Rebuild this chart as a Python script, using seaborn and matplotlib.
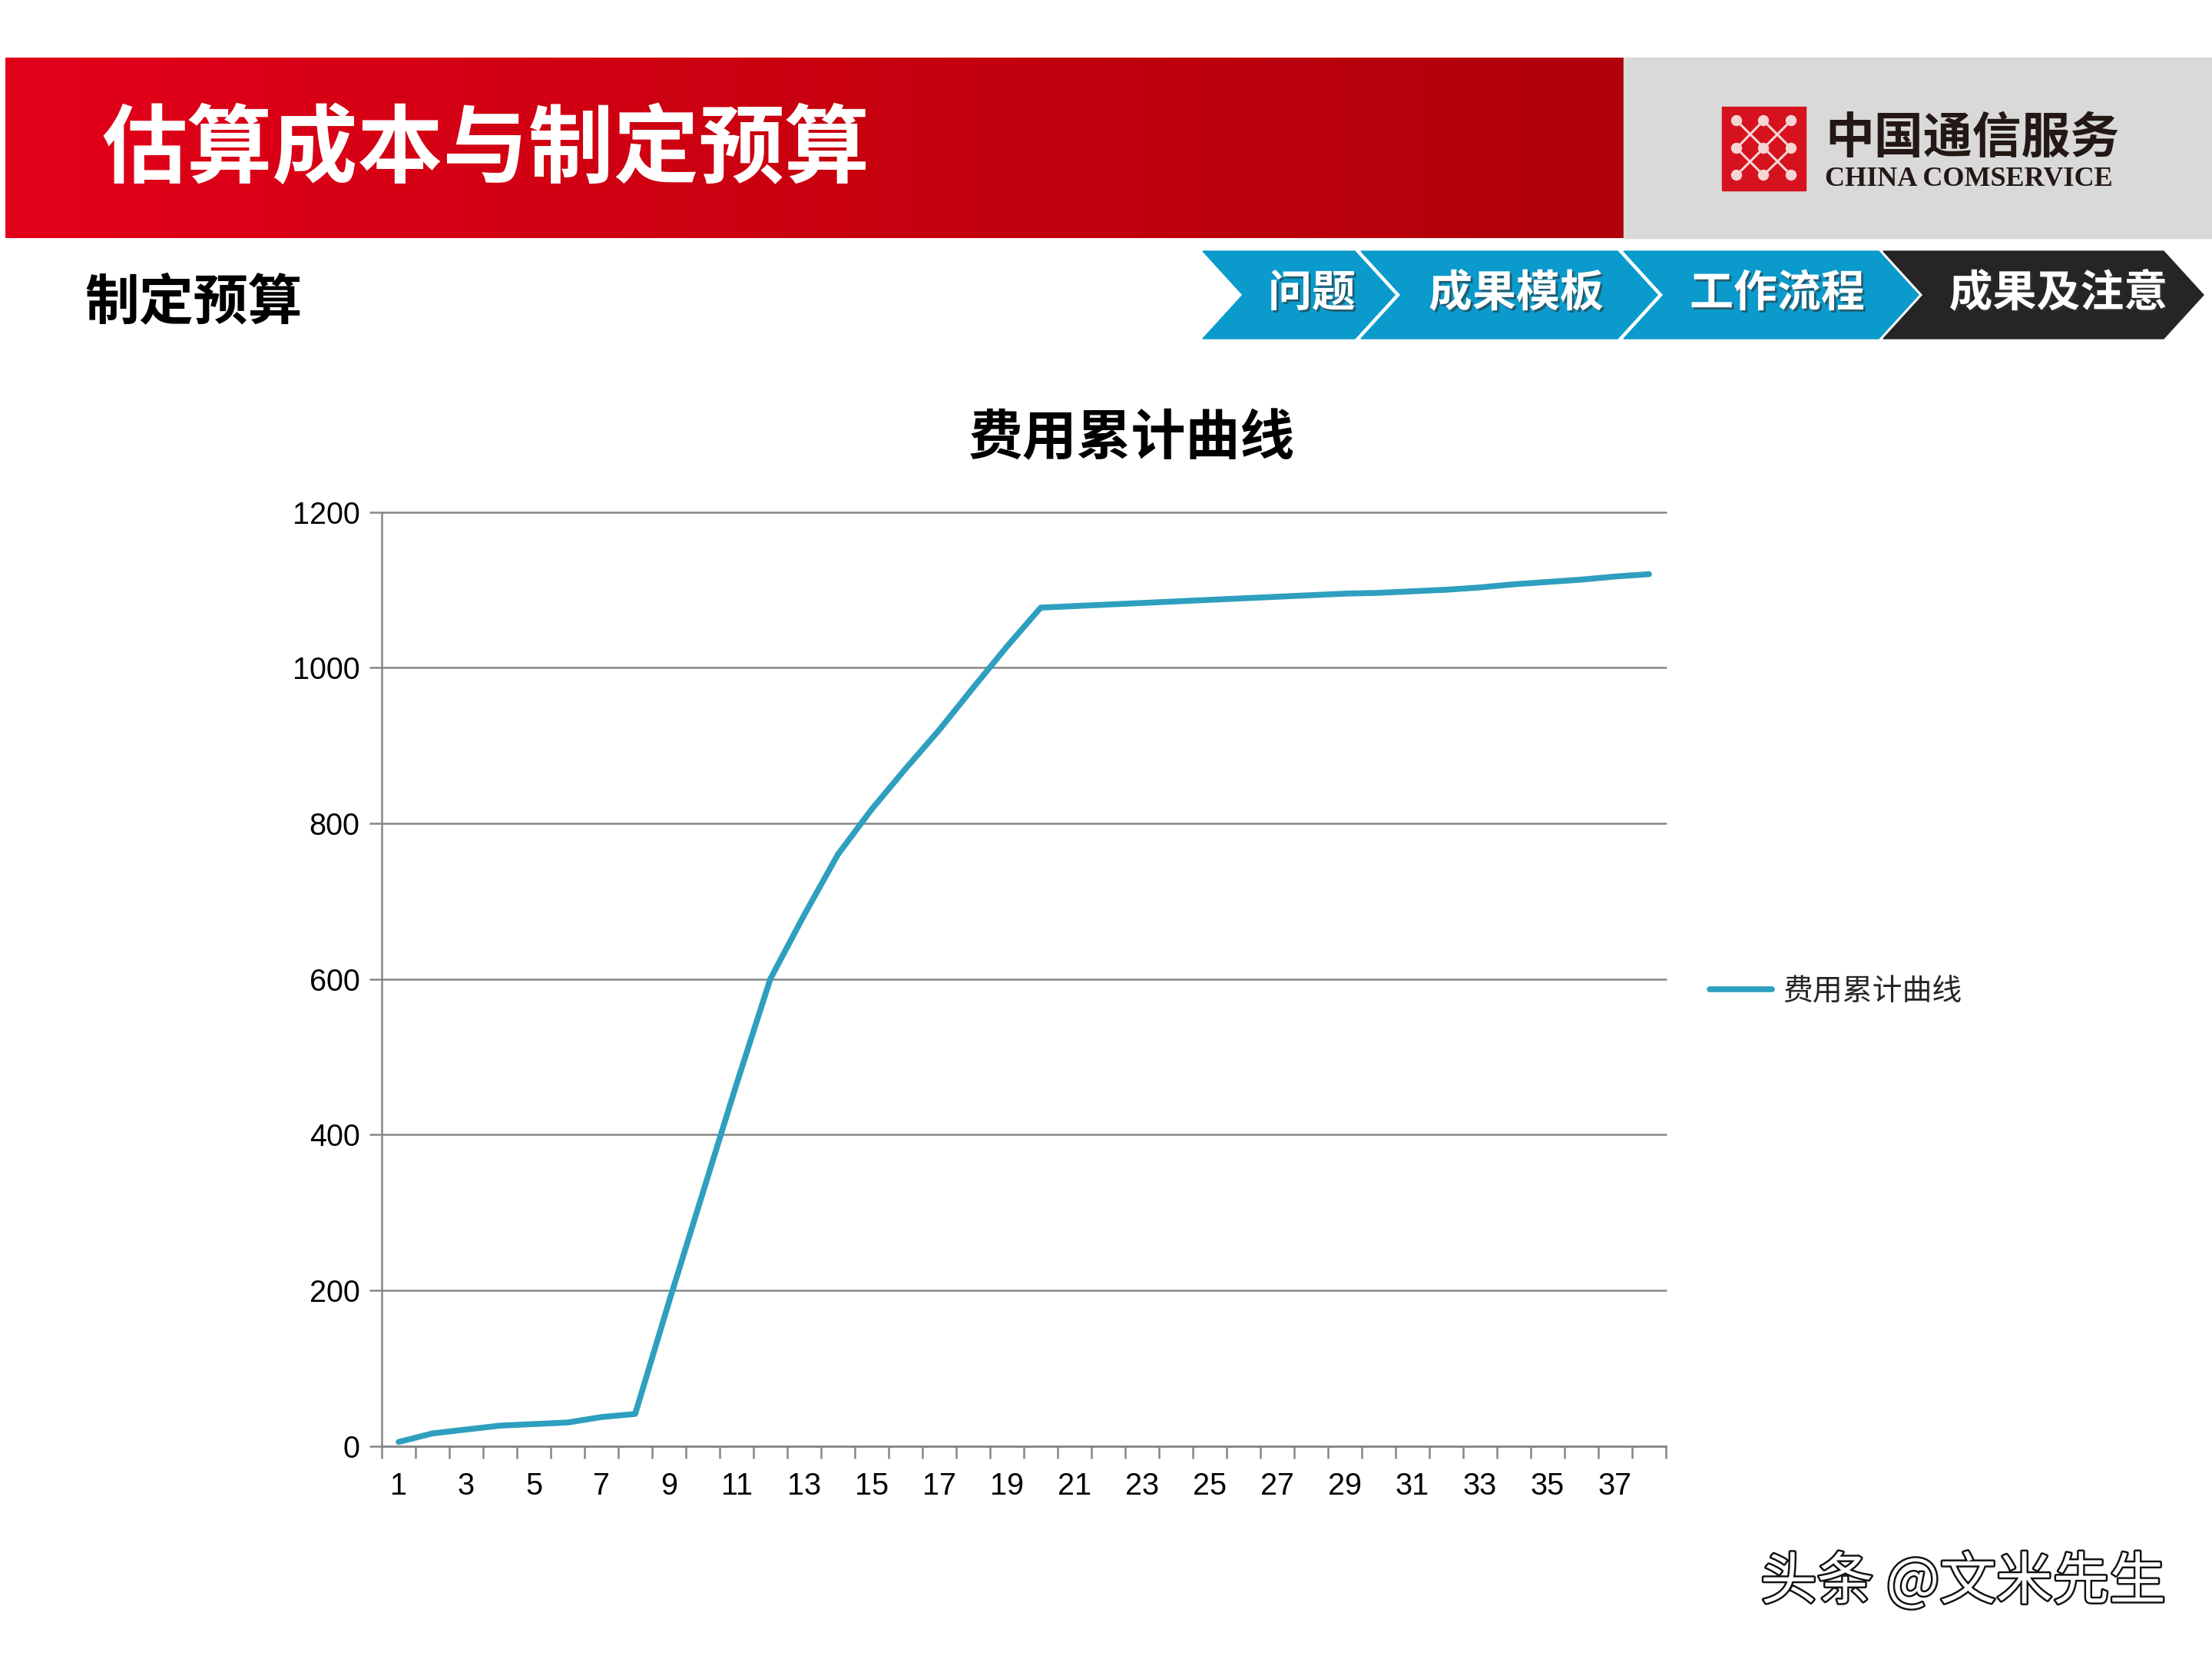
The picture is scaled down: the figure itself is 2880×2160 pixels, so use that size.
import numpy as np
import pandas as pd
import matplotlib
matplotlib.use("Agg")
import matplotlib.pyplot as plt
import seaborn as sns
from matplotlib.patches import Polygon, Rectangle, Circle
from matplotlib.colors import LinearSegmentedColormap
import matplotlib.patheffects as pe

# ---------------- data ----------------
periods = list(range(1, 39))
cumulative_cost = [5, 16, 21, 26, 28, 30, 37, 41,
                   185, 325, 465, 600,
                   682, 760, 818, 870, 920, 974, 1027, 1077,
                   1079, 1081, 1083, 1085, 1087, 1089, 1091, 1093, 1095, 1096, 1098, 1100,
                   1103, 1107, 1110, 1113, 1117, 1120]
y_ticks = [0, 200, 400, 600, 800, 1000, 1200]
x_tick_labels = [str(i) for i in range(1, 38, 2)]

header_title = "估算成本与制定预算"
section_title = "制定预算"
nav_steps = ["问题", "成果模板", "工作流程", "成果及注意"]
chart_title = "费用累计曲线"
series_name = "费用累计曲线"
company_cn = "中国通信服务"
company_en = "CHINA COMSERVICE"
watermark = "头条 @文米先生"

# ---------------- style ----------------
sns.set_theme(style="white")
plt.rcParams["font.family"] = ["Noto Sans CJK SC", "DejaVu Sans"]

W, H = 2880, 2160
fig = plt.figure(figsize=(W / 100, H / 100), dpi=100)
fig.patch.set_facecolor("white")

# background / decoration layer in pixel coordinates
bg = fig.add_axes([0, 0, 1, 1], zorder=0)
bg.set_xlim(0, W)
bg.set_ylim(H, 0)
bg.axis("off")

red_cmap = LinearSegmentedColormap.from_list("hdr", ["#E2001A", "#C9000F", "#B0000A"])
bg.imshow(np.linspace(0, 1, 256).reshape(1, -1), cmap=red_cmap,
          extent=[7, 2114, 310, 75], aspect="auto", zorder=1)
bg.add_patch(Rectangle((2114, 75), W - 2114, 235, color="#D9D9D9", zorder=1))
bg.set_xlim(0, W)
bg.set_ylim(H, 0)

bg.text(132, 197, header_title, color="white", fontsize=80, fontweight="bold",
        ha="left", va="center", zorder=3)

# logo
bg.add_patch(Rectangle((2242, 139), 109, 109, color="#D5121E", zorder=2))
lx = [2261, 2296, 2332]
ly = [157, 193, 228]
segs = [((0, 0), (2, 2)), ((2, 0), (0, 2)), ((1, 0), (0, 1)), ((1, 0), (2, 1)),
        ((0, 1), (1, 2)), ((2, 1), (1, 2))]
for (a, b), (c, d) in segs:
    bg.plot([lx[a], lx[c]], [ly[b], ly[d]], color="#F6D5D5", lw=2.2, zorder=3)
for i in range(3):
    for j in range(3):
        bg.add_patch(Circle((lx[i], ly[j]), 6.5, color="#F6D5D5", zorder=4))
bg.text(2376, 180, company_cn, color="#231815", fontsize=46, fontweight="bold",
        ha="left", va="center", zorder=3)
bg.text(2376, 233, company_en, color="#231815", fontsize=26, fontweight="bold",
        family="Liberation Serif", ha="left", va="center", zorder=3)

# section title
bg.text(110, 394, section_title, color="black", fontsize=51, fontweight="bold",
        ha="left", va="center", zorder=3)

# chevrons
chev = [(1566, 1764), (1772, 2106), (2114, 2446), (2452, 2817)]
chev_colors = ["#0A9ACB", "#0A9ACB", "#0A9ACB", "#252525"]
text_x = [1708, 1974, 2314, 2680]
top, bot, d = 327, 441, 52
mid = (top + bot) / 2
for (L, R), col, tx, lab in zip(chev, chev_colors, text_x, nav_steps):
    bg.add_patch(Polygon([(L, top), (R, top), (R + d, mid), (R, bot), (L, bot), (L + d, mid)],
                         closed=True, color=col, zorder=2))
    bg.text(tx, 382, lab, color="white", fontsize=41, fontweight="bold",
            ha="center", va="center", zorder=3,
            path_effects=[pe.withSimplePatchShadow(offset=(2, -2), shadow_rgbFace="#333333", alpha=0.6)])

# watermark
bg.text(2292, 2061, watermark, color="white", fontsize=53, ha="left", va="center", zorder=3,
        path_effects=[pe.Stroke(linewidth=3.5, foreground="#111111"), pe.Normal()])

# ---------------- chart ----------------
df = pd.DataFrame({"期数": periods, "累计费用": cumulative_cost})
grid_col = "#868686"
line_col = "#2E9FBF"

ax = fig.add_axes([497 / W, 1 - 1882.5 / H, 1672 / W, 1216 / H], zorder=2)
ax.set_facecolor("none")
sns.lineplot(data=df, x="期数", y="累计费用", ax=ax, color=line_col, linewidth=5.5,
             label=series_name, solid_capstyle="round", solid_joinstyle="round")
ax.set_xlim(0.5, 38.5)
ax.set_ylim(0, 1200)
ax.set_xlabel("")
ax.set_ylabel("")

ax.set_yticks(y_ticks)
ax.set_yticklabels([str(v) for v in y_ticks])
ax.set_xticks(list(range(1, 38, 2)))
ax.set_xticklabels(x_tick_labels)
ax.set_xticks(np.arange(0.5, 39, 1), minor=True)

ax.yaxis.grid(True, color=grid_col, linewidth=1.8)
ax.xaxis.grid(False)
for gl in ax.get_ygridlines():
    gl.set_clip_on(False)
ax.set_axisbelow(True)

for s in ["top", "right"]:
    ax.spines[s].set_visible(False)
for s in ["left", "bottom"]:
    ax.spines[s].set_color(grid_col)
    ax.spines[s].set_linewidth(1.8)

ax.tick_params(axis="y", which="major", direction="out", length=11.5, width=1.8,
               color=grid_col, pad=9, labelsize=28.5, labelcolor="black", left=True)
ax.tick_params(axis="x", which="major", length=0, pad=24, labelsize=28.5,
               labelcolor="black", bottom=True)
ax.tick_params(axis="x", which="minor", direction="out", length=11.5, width=1.8,
               color=grid_col, bottom=True)
for lbl in ax.get_xticklabels() + ax.get_yticklabels():
    lbl.set_fontfamily("Liberation Sans")

fig.text(1473 / W, 1 - 571 / H, chart_title, ha="center", va="center",
         fontsize=51, fontweight="bold", color="black")

handles, labels = ax.get_legend_handles_labels()
if ax.get_legend() is not None:
    ax.get_legend().remove()
fig.legend(handles, labels, loc="center left", bbox_to_anchor=(2226 / W, 1 - 1291 / H),
           frameon=False, fontsize=28, handlelength=2.08, handletextpad=0.36,
           borderpad=0, borderaxespad=0)

fig.savefig("out.png", dpi=100, facecolor="white")
